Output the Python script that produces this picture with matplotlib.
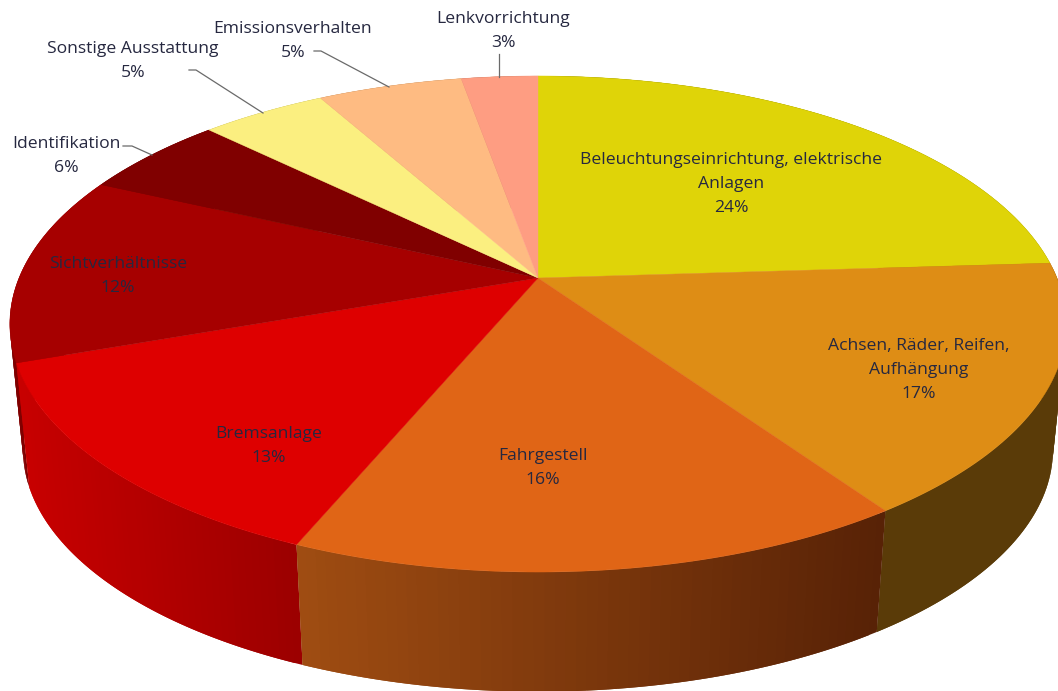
import numpy as np
import matplotlib
matplotlib.use('Agg')
import matplotlib.pyplot as plt
from matplotlib.colors import to_rgb

plt.rcParams['font.family'] = ['Open Sans', 'DejaVu Sans']

# slices, clockwise from 12 o'clock
categories = ['Beleuchtungseinrichtung, elektrische\nAnlagen', 'Achsen, Räder, Reifen,\nAufhängung', 'Fahrgestell',
              'Bremsanlage', 'Sichtverhältnisse', 'Identifikation', 'Sonstige Ausstattung',
              'Emissionsverhalten', 'Lenkvorrichtung']
values = [24.0, 16.4, 15.9, 13.3, 12.3, 5.4, 4.6, 5.3, 2.8]
pct_labels = ['24%', '17%', '16%', '13%', '12%', '6%', '5%', '5%', '3%']
top_colors = ['#dfd408', '#de8d15', '#e06516', '#de0000', '#a60000', '#800000', '#fbef80', '#febb82', '#fe9d82']
side_left = ['#6e6804', '#5a3b08', '#a04d12', '#c80000', '#800000', '#600000', '#a09850', '#a07850', '#a06450']
side_right = ['#6e6804', '#5a3b08', '#582206', '#9c0000', '#800000', '#600000', '#a09850', '#a07850', '#a06450']

# label centre x and y of the first line, in pixels
label_pos = [(731, 159), (919, 345), (543, 455), (269, 433), (118, 263), (66, 143), (133, 48), (293, 28), (503, 18)]
leaders = [None, None, None, None, None,
           [(123, 146), (132, 146), (152, 155)],
           [(189, 70), (196, 70), (263, 113)],
           [(314, 51), (321, 51), (389, 87)],
           [(499, 54), (499, 77)]]

# projection of the tilted disc
cx, cy = 538, 278
A, B, p = 519, 239.5, 0.1855
depth_scale, cy_bottom = 0.975, 405


def project(theta, scale=1.0, yc=cy):
    x, y = np.sin(theta), np.cos(theta)
    d = 1 + p * y
    return cx + scale * A * x / d, yc - scale * B * y / d


fig, ax = plt.subplots(figsize=(10.58, 6.91), dpi=100)
fig.subplots_adjust(0, 0, 1, 1)
ax.set_xlim(0, 1058)
ax.set_ylim(691, 0)
ax.axis('off')

edges = 2 * np.pi * np.cumsum([0] + values) / np.sum(values)
mids = (edges[:-1] + edges[1:]) / 2

# side wall, narrow overlapping strips, far slices first so near ones cover them
for i in np.argsort(-np.cos(mids)):
    th = np.linspace(edges[i], edges[i + 1], 60)
    xt, yt = project(th)
    xb, yb = project(th, depth_scale, cy_bottom)
    c0, c1 = np.array(to_rgb(side_left[i])), np.array(to_rgb(side_right[i]))
    for j in range(len(th) - 1):
        k = min(j + 2, len(th) - 1)
        f = (xt[j] - xt.min()) / (xt.max() - xt.min())
        col = c0 + (c1 - c0) * f
        ax.fill([xt[j], xt[k], xb[k], xb[j]], [yt[j], yt[k], yb[k], yb[j]],
                color=col, lw=0, zorder=2)

# top face
for i in range(len(values)):
    th = np.linspace(edges[i], edges[i + 1], 80)
    xt, yt = project(th)
    ax.fill(np.r_[cx, xt], np.r_[cy, yt], color=top_colors[i], lw=0.3, zorder=3)

for i in range(len(values)):
    x, y = label_pos[i]
    ax.text(x, y - 7, categories[i] + '\n' + pct_labels[i], ha='center', va='top',
            fontsize=12.6, color='#262840', linespacing=1.66, zorder=5)
    if leaders[i] is not None:
        lx, ly = zip(*leaders[i])
        ax.plot(lx, ly, color='#6a6a6a', lw=0.9, zorder=4)

fig.savefig('out.png', dpi=100)
